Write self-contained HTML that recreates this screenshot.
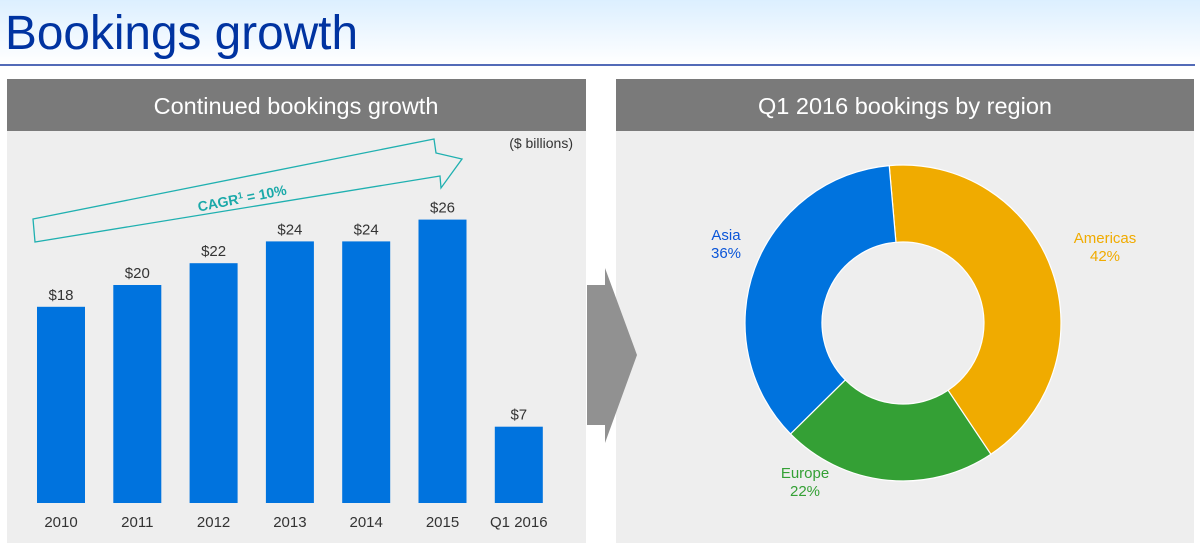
<!DOCTYPE html>
<html><head><meta charset="utf-8"><style>
body{margin:0;width:1200px;height:545px;overflow:hidden;background:#fff;font-family:"Liberation Sans",sans-serif;}
</style></head><body>
<svg width="1200" height="545" xmlns="http://www.w3.org/2000/svg">
<defs><linearGradient id="hg" x1="0" y1="0" x2="0" y2="1"><stop offset="0" stop-color="#dcefff"/><stop offset="1" stop-color="#ffffff"/></linearGradient></defs>
<rect x="0" y="0" width="1200" height="64" fill="url(#hg)"/>
<text x="5" y="49" font-size="48" fill="#0033a1" textLength="353" lengthAdjust="spacingAndGlyphs">Bookings growth</text>
<line x1="0" y1="65" x2="1195" y2="65" stroke="#1a3aa0" stroke-width="1.5"/>
<g>
<rect x="7" y="131" width="579" height="412" fill="#eeeeee"/>
<rect x="7" y="79" width="579" height="52" fill="#7a7a7a"/>
<text x="296" y="114" font-size="23.5" fill="#fff" text-anchor="middle">Continued bookings growth</text>
<text x="573" y="148" font-size="14" fill="#333" text-anchor="end">($ billions)</text>
<polygon points="33,219 434,139 436,153 462,159 441,188 440,176 35,242" fill="none" stroke="#1fb0b0" stroke-width="1.3"/>
<text x="243" y="203" font-size="14" font-weight="bold" fill="#1aa9a9" text-anchor="middle" transform="rotate(-11 243 203)">CAGR<tspan font-size="9" dy="-5">1</tspan><tspan dy="5"> = 10%</tspan></text>
<g id="bars"></g>
</g>
<g>
<rect x="616" y="131" width="578" height="412" fill="#eeeeee"/>
<rect x="616" y="79" width="578" height="52" fill="#7a7a7a"/>
<text x="905" y="114" font-size="23.5" fill="#fff" text-anchor="middle">Q1 2016 bookings by region</text>
<g id="donut"></g>
</g>
<polygon points="587,285 605,285 605,268 637,355 605,443 605,425 587,425" fill="#919191"/>
</svg>
<script>
const years=["2010","2011","2012","2013","2014","2015","Q1 2016"];
const bookings=[18,20,22,24,24,26,7];
const valueLabels=["$18","$20","$22","$24","$24","$26","$7"];
const regions=["Americas","Europe","Asia"];
const shares=[42,22,36];
const regionColors=["#f0ab00","#34a035","#0073de"];
const NS="http://www.w3.org/2000/svg";
const baseY=503,k=10.9,x0=37,step=76.3,bw=48;
const yS=v=>baseY-v*k, xS=i=>x0+i*step;
const bg=document.getElementById('bars');
function mk(t,a,p){const e=document.createElementNS(NS,t);for(const n in a)e.setAttribute(n,a[n]);p.appendChild(e);return e;}
bookings.forEach((v,i)=>{
 const r=mk('rect',{x:xS(i),y:yS(v),width:bw,height:baseY-yS(v),fill:'#0073de'},bg);
 
 
 const t=mk('text',{x:xS(i)+bw/2,y:yS(v)-7,'font-size':15,fill:'#333','text-anchor':'middle'},bg);t.textContent=valueLabels[i];
 
 
 const c=mk('text',{x:xS(i)+bw/2,y:527,'font-size':15,fill:'#333','text-anchor':'middle'},bg);c.textContent=years[i];
 
 
});
const dg=document.getElementById('donut');
const cx=903,cy=323,R=158,r0=81;
let a=-5;const tot=shares.reduce((s,v)=>s+v,0);
const pt=(ang,rad)=>[cx+rad*Math.sin(ang*Math.PI/180),cy-rad*Math.cos(ang*Math.PI/180)];
const labelPos=[[1105,243],[805,478],[726,240]];
shares.forEach((v,i)=>{
 const sw=v/tot*360,b=a+sw,lg=sw>180?1:0;
 const [x1,y1]=pt(a,R),[x2,y2]=pt(b,R),[x3,y3]=pt(b,r0),[x4,y4]=pt(a,r0);
 const p=mk('path',{d:`M${x1},${y1}A${R},${R} 0 ${lg} 1 ${x2},${y2}L${x3},${y3}A${r0},${r0} 0 ${lg} 0 ${x4},${y4}Z`,fill:regionColors[i],stroke:'#fff','stroke-width':1.2},dg);
 
 
 const t=mk('text',{x:labelPos[i][0],y:labelPos[i][1],'font-size':15,fill:regionColors[i]==='#0073de'?'#0a55d8':regionColors[i],'text-anchor':'middle'},dg);
 
 
 const s1=mk('tspan',{x:labelPos[i][0]},t);s1.textContent=regions[i];
 const s2=mk('tspan',{x:labelPos[i][0],dy:18},t);s2.textContent=v+'%';
 a=b;
});
</script>
</body></html>
